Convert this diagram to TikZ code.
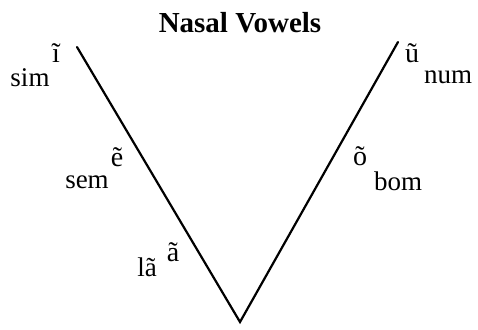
\documentclass[tikz,border=0pt]{standalone}
\usepackage{fontspec}
\setmainfont{Liberation Serif}
\usepackage{tikz}
\usetikzlibrary{positioning}

\begin{document}
\begin{tikzpicture}[x=1pt, y=-1pt, inner sep=0pt,
  vow/.style={font=\fontsize{28}{30}\selectfont},
  word/.style={font=\fontsize{27}{30}\selectfont},
  ttl/.style={font=\fontsize{29}{32}\selectfont\bfseries},
  vline/.style={line width=2.2pt, line cap=round}]
\useasboundingbox (0,0) rectangle (478,329);
\node[ttl] (title) at (240,23) {Nasal Vowels};
% corners of the V
\coordinate (topl) at (77,47);
\coordinate (bot) at (240,322);
\coordinate (topr) at (398,42);
\draw[vline] (topl) -- (bot) -- (topr);
% vowels and words
\node[vow] (vi) at (56,53) {ĩ};
\node[word] (sim) at (30,78) {sim};
\node[vow] (ve) at (117,157) {ẽ};
\node[word] (sem) at (87,182) {sem};
\node[vow] (va) at (173,252) {ã};
\node[word] (la) at (147,267) {lã};
\node[vow] (vu) at (412,53) {ũ};
\node[word] (num) at (448,77) {num};
\node[vow] (vo) at (360,156) {õ};
\node[word] (bom) at (398,181) {bom};
\end{tikzpicture}
\end{document}
